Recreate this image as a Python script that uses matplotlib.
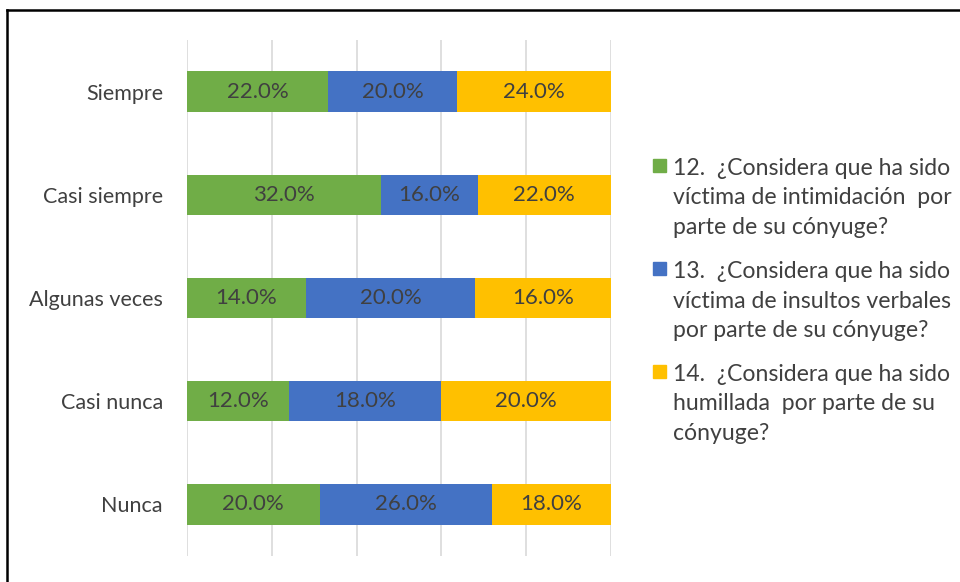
import matplotlib
matplotlib.use("Agg")
import matplotlib.pyplot as plt
from matplotlib.patches import Rectangle
from matplotlib.lines import Line2D
import numpy as np

categories = ["Siempre", "Casi siempre", "Algunas veces", "Casi nunca", "Nunca"]
series_names = [
    "12.  ¿Considera que ha sido\nvíctima de intimidación  por\nparte de su cónyuge?",
    "13.  ¿Considera que ha sido\nvíctima de insultos verbales\npor parte de su cónyuge?",
    "14.  ¿Considera que ha sido\nhumillada  por parte de su\ncónyuge?",
]
s12 = [22.0, 32.0, 14.0, 12.0, 20.0]
s13 = [20.0, 16.0, 20.0, 18.0, 26.0]
s14 = [24.0, 22.0, 16.0, 20.0, 18.0]
colors = ["#70AD47", "#4472C4", "#FFC000"]

plt.rcParams['font.family'] = ['Lato', 'DejaVu Sans']
txt = "#404040"

fig = plt.figure(figsize=(9.6, 5.82), dpi=100)
ax = fig.add_axes([187/960, 26/582, (611-187)/960, (556-40)/582])

data = np.array([s12, s13, s14])
totals = data.sum(axis=0)
norm = data / totals * 100
y = np.arange(len(categories))
left = np.zeros(len(categories))
for i in range(3):
    ax.barh(y, norm[i], left=left, height=0.39, color=colors[i], zorder=3)
    for j in range(len(categories)):
        ax.text(left[j] + norm[i][j] / 2, y[j], f"{data[i][j]:.1f}%",
                ha="center", va="center", fontsize=16, color=txt, zorder=4)
    left += norm[i]

ax.set_xlim(0, 100)
ax.set_ylim(len(categories) - 0.5, -0.5)
ax.set_xticks([0, 20, 40, 60, 80, 100])
ax.set_xticklabels([])
ax.tick_params(axis="x", length=0)
ax.set_yticks(y)
ax.set_yticklabels(categories, fontsize=15.5, color=txt)
ax.tick_params(axis="y", length=0, pad=17.3)
ax.grid(axis="x", color="#D9D9D9", linewidth=1.2, zorder=0)
for s in ax.spines.values():
    s.set_visible(False)

# legend drawn manually
leg_tops = [159, 262, 365]
for name, c, yt in zip(series_names, colors, leg_tops):
    fig.patches.append(Rectangle((653/960, 1 - (yt + 13)/582), 13/960, 13/582,
                                 transform=fig.transFigure, color=c))
    fig.text(673/960, 1 - (yt - 1)/582, name, fontsize=16.6, color=txt,
             va="top", ha="left", linespacing=1.5)

# outer frame (left and top edges)
fig.add_artist(Line2D([6.5/960, 6.5/960], [0, 1 - 10/582], color="black", linewidth=1.8, transform=fig.transFigure))
fig.add_artist(Line2D([6.5/960, 1], [1 - 10/582, 1 - 10/582], color="black", linewidth=1.8, transform=fig.transFigure))

fig.savefig("out.png", dpi=100)
